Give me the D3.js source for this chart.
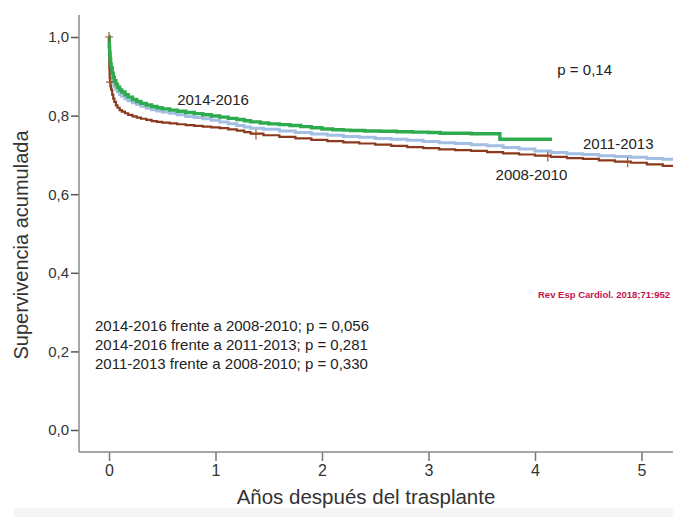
<!DOCTYPE html>
<html>
<head>
<meta charset="utf-8">
<script src="https://cdn.jsdelivr.net/npm/d3@7"></script>
<style>
  body { margin: 0; background: #fff; }
  svg text { font-family: "Liberation Sans", Arial, sans-serif; }
</style>
</head>
<body>
<svg></svg>
<script>
// Constants
const width = 673;
const height = 517;

// data
const xTicks = [0, 1, 2, 3, 4, 5];
const yTicks = [0, 0.2, 0.4, 0.6, 0.8, 1.0];

// 2014-2016
const tGreen = [0, 0.003, 0.006, 0.01, 0.015, 0.02, 0.03, 0.04, 0.05, 0.065, 0.08, 0.1, 0.12, 0.15, 0.18, 0.22, 0.26, 0.3, 0.35, 0.4, 0.45, 0.5, 0.57, 0.64, 0.72, 0.8, 0.88, 0.96, 1.04, 1.12, 1.2, 1.27, 1.33, 1.42, 1.5, 1.6, 1.7, 1.8, 1.9, 2.0, 2.1, 2.2, 2.27, 2.4, 2.55, 2.7, 2.85, 3.0, 3.11, 3.25, 3.4, 3.55, 3.67, 4.16];
const sGreen = [1.0, 0.975, 0.96, 0.945, 0.932, 0.922, 0.908, 0.898, 0.889, 0.88, 0.872, 0.865, 0.86, 0.853, 0.847, 0.841, 0.836, 0.831, 0.827, 0.823, 0.82, 0.817, 0.814, 0.811, 0.808, 0.805, 0.802, 0.799, 0.796, 0.793, 0.79, 0.787, 0.784, 0.781, 0.779, 0.777, 0.775, 0.772, 0.769, 0.766, 0.764, 0.763, 0.762, 0.761, 0.760, 0.759, 0.758, 0.757, 0.755, 0.755, 0.754, 0.754, 0.740, 0.740];

// 2011-2013 and 2008-2010 share the same time grid
const tLong = [0, 0.003, 0.006, 0.01, 0.015, 0.02, 0.03, 0.04, 0.05, 0.065, 0.08, 0.1, 0.12, 0.15, 0.18, 0.22, 0.26, 0.3, 0.35, 0.4, 0.45, 0.5, 0.57, 0.64, 0.72, 0.8, 0.88, 0.96, 1.04, 1.12, 1.2, 1.27, 1.33, 1.45, 1.6, 1.75, 1.9, 2.05, 2.2, 2.35, 2.5, 2.65, 2.8, 2.95, 3.1, 3.25, 3.4, 3.55, 3.7, 3.85, 4.0, 4.15, 4.3, 4.45, 4.6, 4.75, 4.9, 5.05, 5.2, 5.35];
const sBlue = [1.0, 0.97, 0.952, 0.935, 0.92, 0.908, 0.893, 0.882, 0.874, 0.866, 0.86, 0.854, 0.849, 0.843, 0.838, 0.833, 0.828, 0.824, 0.819, 0.815, 0.812, 0.809, 0.806, 0.802, 0.798, 0.795, 0.792, 0.788, 0.784, 0.779, 0.775, 0.771, 0.768, 0.765, 0.761, 0.757, 0.753, 0.750, 0.747, 0.745, 0.742, 0.740, 0.737, 0.734, 0.731, 0.729, 0.726, 0.723, 0.719, 0.715, 0.71, 0.706, 0.703, 0.701, 0.698, 0.696, 0.694, 0.691, 0.689, 0.686];
const sBrown = [1.0, 0.92, 0.895, 0.885, 0.875, 0.866, 0.853, 0.843, 0.835, 0.826, 0.82, 0.814, 0.81, 0.806, 0.802, 0.798, 0.795, 0.792, 0.789, 0.786, 0.784, 0.782, 0.78, 0.778, 0.776, 0.774, 0.772, 0.77, 0.768, 0.765, 0.762, 0.758, 0.754, 0.75, 0.746, 0.742, 0.738, 0.735, 0.732, 0.729, 0.726, 0.723, 0.72, 0.717, 0.714, 0.712, 0.71, 0.707, 0.704, 0.701, 0.698, 0.695, 0.692, 0.69, 0.686, 0.683, 0.68, 0.676, 0.672, 0.668];

// censored marks (2008-2010)
const tCensor = [0, 0.01, 1.38, 4.12, 4.87];
const sCensor = [1.0, 0.885, 0.752, 0.696, 0.681];

const comparisons = [
    '2014-2016 frente a 2008-2010; p = 0,056',
    '2014-2016 frente a 2011-2013; p = 0,281',
    '2011-2013 frente a 2008-2010; p = 0,330'
];

// svg
const svg = d3.select('svg')
    .attr('width', width)
    .attr('height', height);

// light band at the bottom
svg.append('rect')
    .attr('x', 14).attr('y', 508)
    .attr('width', width - 14).attr('height', height - 508)
    .attr('fill', '#f5f5f5');

// scales
const x = d3.scaleLinear().domain([0, 5]).range([109, 641.5]);
const y = d3.scaleLinear().domain([0, 1]).range([430, 37]);

const axisLeft = 79;
const axisBottom = 452;

// y axis
const yAxis = svg.append('g')
    .attr('transform', `translate(${axisLeft}, 0)`)
    .call(d3.axisLeft(y).tickValues(yTicks).tickSize(8).tickPadding(2)
        .tickFormat(d => d3.format('.1f')(d).replace('.', ',')));
yAxis.select('.domain').remove();
yAxis.append('line')
    .attr('y1', 15).attr('y2', axisBottom)
    .attr('stroke', '#8a8a8a').attr('stroke-width', 1.5);
yAxis.selectAll('.tick line').attr('stroke', '#555').attr('stroke-width', 1.5);
yAxis.selectAll('.tick text')
    .attr('fill', '#333')
    .style('font-size', '15px');

// x axis
const xAxis = svg.append('g')
    .attr('transform', `translate(0, ${axisBottom})`)
    .call(d3.axisBottom(x).tickValues(xTicks).tickSize(9).tickPadding(4)
        .tickFormat(d3.format('d')));
xAxis.select('.domain').remove();
xAxis.append('line')
    .attr('x1', axisLeft).attr('x2', width)
    .attr('stroke', '#8a8a8a').attr('stroke-width', 1.5);
xAxis.selectAll('.tick line').attr('stroke', '#777').attr('stroke-width', 1.5);
xAxis.selectAll('.tick text')
    .attr('fill', '#333')
    .style('font-size', '16px');

// axis titles
svg.append('text')
    .attr('transform', `translate(28, 245) rotate(-90)`)
    .attr('text-anchor', 'middle')
    .attr('fill', '#333')
    .style('font-size', '20px')
    .text('Supervivencia acumulada');

svg.append('text')
    .attr('x', 366).attr('y', 504)
    .attr('text-anchor', 'middle')
    .attr('fill', '#333')
    .style('font-size', '20.5px')
    .text('Años después del trasplante');

// curves
svg.append('clipPath').attr('id', 'plot')
    .append('rect')
    .attr('x', axisLeft + 1).attr('y', 0)
    .attr('width', width - axisLeft).attr('height', axisBottom);

const line = d3.line()
    .x(d => x(d[0]))
    .y(d => y(d[1]))
    .curve(d3.curveStepAfter);

const curves = svg.append('g').attr('clip-path', 'url(#plot)');

const series = [
    { t: tLong, s: sBlue, color: '#a3bfe3', w: 3 },
    { t: tLong, s: sBrown, color: '#8b3a1e', w: 2.2 },
    { t: tGreen, s: sGreen, color: '#2fab4f', w: 3.4 }
];

series.forEach(sr => {
    curves.append('path')
        .datum(d3.zip(sr.t, sr.s))
        .attr('fill', 'none')
        .attr('stroke', sr.color)
        .attr('stroke-width', sr.w)
        .attr('d', line);
});

curves.selectAll('.censor')
    .data(d3.zip(tCensor, sCensor)).enter()
    .append('path')
    .attr('class', 'censor')
    .attr('d', d => `M${x(d[0])},${y(d[1]) - 5}V${y(d[1]) + 5}M${x(d[0]) - 4},${y(d[1])}H${x(d[0]) + 4}`)
    .attr('stroke', '#a0522d')
    .attr('stroke-width', 1.2);

// annotations
const label = (txt, px, py, size, color, weight) => svg.append('text')
    .attr('x', px).attr('y', py)
    .attr('fill', color || '#222')
    .style('font-size', size + 'px')
    .style('font-weight', weight || 'normal')
    .text(txt);

label('2014-2016', x(0.64), y(0.828), 15);
label('2011-2013', x(4.45), y(0.715), 15);
label('2008-2010', x(3.63), y(0.636), 15);
label('p = 0,14', x(4.21), y(0.903), 15);

comparisons.forEach((c, i) => label(c, 95, 331 + i * 19, 15));

label('Rev Esp Cardiol. 2018;71:952', 538, 298, 9.5, '#c4124f', 'bold');
</script>
</body>
</html>
